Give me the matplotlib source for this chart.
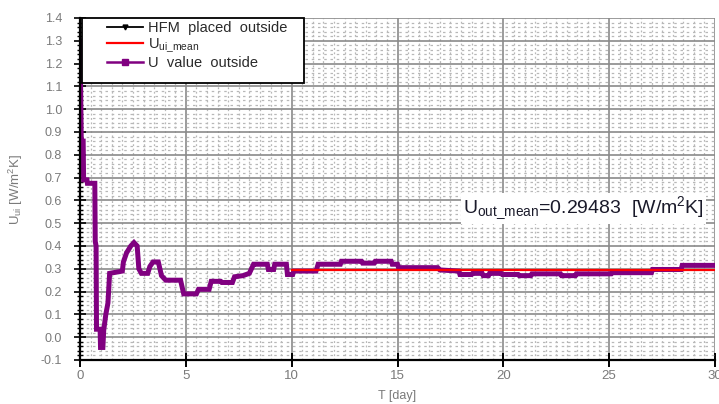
import matplotlib
matplotlib.use("Agg")
import matplotlib.pyplot as plt
from matplotlib.ticker import MultipleLocator
from matplotlib.lines import Line2D
from matplotlib.patches import Rectangle

plt.rcParams['font.family'] = ['Liberation Sans', 'DejaVu Sans']
plt.rcParams['mathtext.fontset'] = 'custom'
plt.rcParams['mathtext.rm'] = 'Liberation Sans'
plt.rcParams['mathtext.it'] = 'Liberation Sans'

# --- data ---
u_days = [0.0, 0.06, 0.15, 0.17, 0.33, 0.35, 0.70, 0.72, 0.76, 0.78, 0.95, 0.97, 1.08,
          1.12, 1.22, 1.32, 1.40, 1.70, 2.00, 2.05, 2.20, 2.40, 2.55, 2.70, 2.78, 2.90,
          3.20, 3.30, 3.45, 3.70, 3.85, 4.05, 4.75, 4.90, 5.50, 5.60, 6.10, 6.20, 6.65,
          6.70, 7.20, 7.30, 7.70, 8.00, 8.15, 8.20, 8.85, 8.90, 9.15, 9.20, 9.75, 9.80,
          10.05, 10.10, 11.15, 11.25, 12.30, 12.35, 13.30, 13.35, 13.90, 13.95, 14.70,
          14.75, 15.00, 15.05, 16.90, 17.00, 17.90, 17.95, 18.50, 18.55, 19.00, 19.05,
          19.30, 19.35, 19.90, 19.95, 20.70, 20.75, 21.30, 21.35, 22.70, 22.75, 23.40,
          23.45, 25.10, 25.15, 27.00, 27.05, 28.40, 28.45, 30.00]
u_vals = [1.30, 0.86, 0.86, 0.69, 0.69, 0.675, 0.675, 0.42, 0.40, 0.035, 0.035, -0.045, -0.045,
          0.03, 0.10, 0.15, 0.28, 0.285, 0.29, 0.33, 0.37, 0.40, 0.415, 0.40, 0.30, 0.28,
          0.28, 0.31, 0.33, 0.33, 0.27, 0.25, 0.25, 0.19, 0.19, 0.21, 0.21, 0.245, 0.245,
          0.24, 0.24, 0.265, 0.27, 0.28, 0.31, 0.32, 0.32, 0.297, 0.297, 0.32, 0.32, 0.275,
          0.275, 0.29, 0.29, 0.32, 0.32, 0.333, 0.333, 0.325, 0.325, 0.333, 0.333,
          0.32, 0.32, 0.305, 0.305, 0.295, 0.29, 0.275, 0.275, 0.28, 0.28, 0.27,
          0.27, 0.28, 0.28, 0.275, 0.275, 0.27, 0.27, 0.278, 0.278, 0.27, 0.27,
          0.278, 0.278, 0.283, 0.283, 0.297, 0.297, 0.315, 0.315]
mean_days = [10, 30]
mean_vals = [0.29483, 0.29483]
hfm_days = []
hfm_vals = []

legend_labels = ['HFM  placed  outside', r'U$_{\rm ui\_mean}$', 'U  value  outside']
x_ticks = [0, 5, 10, 15, 20, 25, 30]
y_ticks = [-0.1, 0.0, 0.1, 0.2, 0.3, 0.4, 0.5, 0.6, 0.7, 0.8, 0.9, 1.0, 1.1, 1.2, 1.3, 1.4]

W, H = 719, 404
fig = plt.figure(figsize=(W / 100, H / 100), dpi=100)
ax = fig.add_axes([80 / W, 1 - 360 / H, (715 - 80) / W, (360 - 18) / H])

ax.plot(hfm_days, hfm_vals, color='black', lw=1.5)
ax.plot(mean_days, mean_vals, color='#ff0000', lw=1.6, zorder=4)
ax.plot(u_days, u_vals, color='#800080', lw=3.6, solid_joinstyle='miter', zorder=3)

ax.set_xlim(0, 30)
ax.set_ylim(-0.1, 1.4)
ax.set_xticks(x_ticks)
ax.set_yticks(y_ticks)
ax.set_yticklabels([f'{v:.1f}' for v in y_ticks])
ax.xaxis.set_minor_locator(MultipleLocator(0.5))
ax.yaxis.set_minor_locator(MultipleLocator(0.02))

ax.grid(which='major', color='#8a8a8a', lw=1.2, ls='-', zorder=1)
ax.grid(which='minor', axis='y', color='#b8b8b8', lw=0.9, ls=(0, (2, 3)), zorder=0)
ax.grid(which='minor', axis='x', color='#b8b8b8', lw=0.9, ls=(0, (1.5, 2)), zorder=0)

for s in ['top', 'right']:
    ax.spines[s].set_visible(False)
for s in ['left', 'bottom']:
    ax.spines[s].set_linewidth(1.6)
    ax.spines[s].set_color('black')
    ax.spines[s].set_zorder(5)

ax.tick_params(axis='y', which='major', direction='inout', length=8, width=1.2,
               pad=9, labelsize=9, labelcolor='#7a7a7a')
ax.tick_params(axis='y', which='minor', direction='inout', length=5, width=1.0)
ax.tick_params(axis='x', which='major', direction='inout', length=10, width=1.4,
               pad=2, labelsize=9.5, labelcolor='#7a7a7a')
ax.tick_params(axis='x', which='minor', length=0)

ax.set_xlabel('T [day]', fontsize=9, color='#7a7a7a', labelpad=6)
ax.set_ylabel(r'U$_{\rm ui}$ [W/m$^2$K]', fontsize=9.5, color='#7a7a7a', labelpad=11)

# legend box
box = Rectangle((82 / W, 1 - 83 / H), 222 / W, 65 / H, transform=fig.transFigure,
                facecolor='white', edgecolor='black', lw=1.3, zorder=9, clip_on=False)
ax.add_patch(box)

handles = [
    Line2D([], [], color='black', lw=1.3, marker='v', ms=3.5),
    Line2D([], [], color='#ff0000', lw=1.6),
    Line2D([], [], color='#800080', lw=1.8, marker='s', ms=4.5),
]
leg = ax.legend(handles, legend_labels, loc='upper left',
                bbox_to_anchor=(107 / W, 1 - 21 / H), bbox_transform=fig.transFigure,
                fontsize=10.5, frameon=False, handlelength=2.45, handletextpad=0.35,
                borderpad=0.0, labelspacing=0.1, borderaxespad=0.0, numpoints=1)
leg.set_zorder(10)
for t in leg.get_texts():
    t.set_color('#2a2a2a')

ax.text(18.1, 0.565, r'U$_{\rm out\_mean}$=0.29483  [W/m$^2$K]', fontsize=14,
        color='#1a1a2a', va='center', ha='left', zorder=8,
        bbox=dict(facecolor='white', edgecolor='none', pad=1.5))

fig.savefig('out.png', dpi=100)
